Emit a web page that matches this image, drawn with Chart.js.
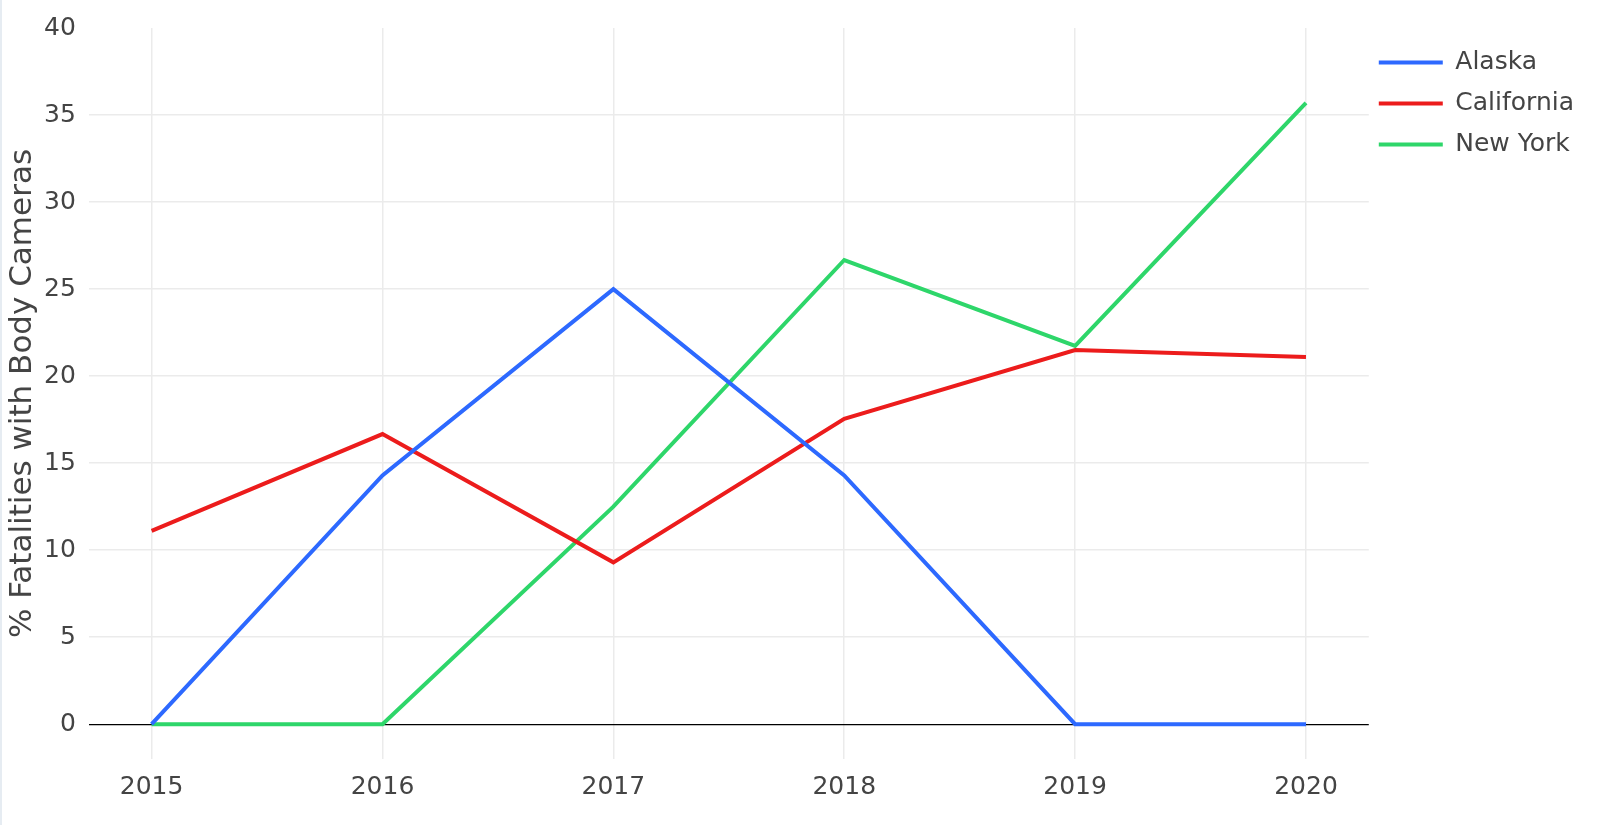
<!DOCTYPE html>
<html>
<head>
<meta charset="utf-8">
<script src="https://cdn.jsdelivr.net/npm/chart.js@4/dist/chart.umd.min.js"></script>
<style>
  html, body { margin: 0; padding: 0; background: #fff; }
  #wrap { width: 1600px; height: 825px; position: relative; box-sizing: border-box; border-left: 2px solid #e6ecf2; }
</style>
</head>
<body>
<div id="wrap"><canvas id="chart"></canvas></div>
<script>
const years = [2015, 2016, 2017, 2018, 2019, 2020]
const alaska = [0, 14.29, 25, 14.29, 0, 0]
const california = [11.11, 16.67, 9.3, 17.54, 21.5, 21.1]
const newYork = [0, 0, 12.5, 26.67, 21.74, 35.7]
const yTicks = [0, 5, 10, 15, 20, 25, 30, 35, 40]

const TEXT = "#444"
const FONT = "'DejaVu Sans', Verdana, sans-serif"

function toPoints(values){
    let data = []
    for (let i = 0; i < years.length; i++){
        data.push({x: years[i], y: values[i]})
    }
    return data
}

function makeDataset(label, values, color){
    return {
        label: label,
        data: toPoints(values),
        borderColor: color,
        backgroundColor: color,
        borderWidth: 4,
        pointRadius: 0,
        pointStyle: "line",
        tension: 0,
        fill: false
    }
}

// nudge the legend a bit closer to the plot, like the original
const legendShift = {
    id: "legendShift",
    afterLayout(chart){
        chart.legend.left -= 6
        chart.legend.right -= 6
    }
}

const ctx = document.querySelector("#chart")
new Chart(ctx, {
    type: "line",
    data: {
        datasets: [
            makeDataset("Alaska", alaska, "rgb(45,105,255)"),
            makeDataset("California", california, "rgb(236,28,28)"),
            makeDataset("New York", newYork, "rgb(46,214,106)")
        ]
    },
    plugins: [legendShift],
    options: {
        responsive: true,
        maintainAspectRatio: false,
        animation: false,
        layout: { padding: { top: 18, right: 10, bottom: 10, left: 0 } },
        plugins: {
            tooltip: { enabled: false },
            legend: {
                position: "right",
                align: "start",
                title: {
                    display: true,
                    text: "",
                    padding: { top: 6, bottom: 0 },
                    font: { size: 10, lineHeight: 1 }
                },
                labels: {
                    usePointStyle: true,
                    pointStyleWidth: 64,
                    boxHeight: 4,
                    color: TEXT,
                    padding: 16,
                    font: { family: FONT, size: 25 }
                }
            }
        },
        scales: {
            x: {
                type: "linear",
                min: 2014.728,
                max: 2020.272,
                afterBuildTicks: (axis) => { axis.ticks = years.map(v => ({value: v})) },
                border: { display: false },
                grid: { color: "#ebebeb", lineWidth: 1.5, drawTicks: false },
                ticks: {
                    color: TEXT,
                    padding: 13,
                    font: { family: FONT, size: 25 },
                    callback: (v) => String(v)
                }
            },
            y: {
                min: -2,
                max: 40,
                afterBuildTicks: (axis) => { axis.ticks = yTicks.map(v => ({value: v})) },
                border: { display: false },
                grid: {
                    drawTicks: false,
                    lineWidth: (c) => c.tick && c.tick.value === 0 ? 1.3 : 1.5,
                    color: (c) => {
                        if (!c.tick) return "#ebebeb"
                        if (c.tick.value === 0) return "#000"
                        if (c.tick.value === 40) return "rgba(0,0,0,0)"
                        return "#ebebeb"
                    }
                },
                ticks: {
                    color: TEXT,
                    padding: 13,
                    font: { family: FONT, size: 25 }
                },
                title: {
                    display: true,
                    text: "% Fatalities with Body Cameras",
                    color: TEXT,
                    padding: { top: 5, bottom: -7 },
                    font: { family: FONT, size: 31, lineHeight: 1 }
                }
            }
        }
    }
})
</script>
</body>
</html>
